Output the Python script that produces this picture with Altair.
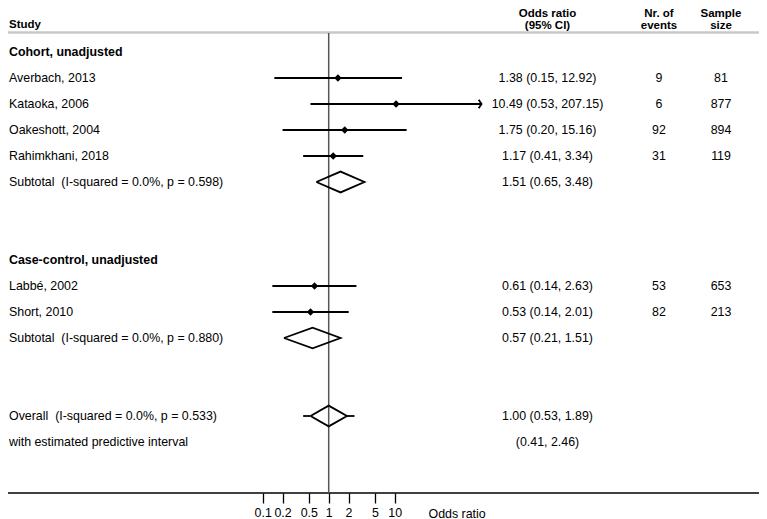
import altair as alt
import pandas as pd

# ---------------- data ----------------
study_labels = ["Averbach, 2013", "Kataoka, 2006", "Oakeshott, 2004",
                "Rahimkhani, 2018", "Labbé, 2002", "Short, 2010"]
study_rows = [2, 3, 4, 5, 10, 11]
study_or = [1.38, 10.49, 1.75, 1.17, 0.61, 0.53]
study_lo = [0.15, 0.53, 0.20, 0.41, 0.14, 0.14]
study_hi = [12.92, 207.15, 15.16, 3.34, 2.63, 2.01]
study_events = [9, 6, 92, 31, 53, 82]
study_size = [81, 877, 894, 119, 653, 213]

group_labels = ["Cohort, unadjusted", "Case-control, unadjusted"]
group_rows = [1, 9]

pooled_labels = ["Subtotal \u00a0(I-squared = 0.0%, p = 0.598)",
                 "Subtotal \u00a0(I-squared = 0.0%, p = 0.880)",
                 "Overall \u00a0(I-squared = 0.0%, p = 0.533)"]
pooled_rows = [6, 12, 15]
pooled_or = [1.51, 0.57, 1.00]
pooled_lo = [0.65, 0.21, 0.53]
pooled_hi = [3.48, 1.51, 1.89]

pred_label = "with estimated predictive interval"
pred_row = 16
pred_lo = 0.41
pred_hi = 2.46

tick_values = [0.1, 0.2, 0.5, 1, 2, 5, 10]
axis_max = 100  # CIs above this get an arrow

# ---------------- tables ----------------
FONT = "Liberation Sans"
FS = 12.4
HALF = 0.4  # diamond half-height in rows
W = 751

studies = pd.DataFrame({
    "label": study_labels, "row": study_rows, "est": study_or,
    "lo": study_lo, "hi": study_hi,
    "events": [str(v) for v in study_events],
    "size": [str(v) for v in study_size],
})
studies["ci"] = [f"{e:.2f} ({l:.2f}, {h:.2f})" for e, l, h in zip(study_or, study_lo, study_hi)]
arrows = studies[studies["hi"] > axis_max]

groups = pd.DataFrame({"label": group_labels, "row": group_rows})

pooled = pd.DataFrame({"label": pooled_labels, "row": pooled_rows,
                       "est": pooled_or, "lo": pooled_lo, "hi": pooled_hi})
pooled["ci"] = [f"{e:.2f} ({l:.2f}, {h:.2f})" for e, l, h in zip(pooled_or, pooled_lo, pooled_hi)]

diamond_rows = []
for i, (r, e, l, h) in enumerate(zip(pooled_rows, pooled_or, pooled_lo, pooled_hi)):
    pts = [(l, r), (e, r - HALF), (h, r), (e, r + HALF), (l, r)]
    for k, (xv, yv) in enumerate(pts):
        diamond_rows.append({"g": i, "o": k, "x": xv, "y": yv})
diamonds = pd.DataFrame(diamond_rows)

overall_row = pooled_rows[-1]
whiskers = pd.DataFrame({"a": [pred_lo, pooled_hi[-1]], "b": [pooled_lo[-1], pred_hi],
                         "row": [overall_row, overall_row]})
pred = pd.DataFrame({"label": [pred_label], "row": [pred_row],
                     "ci": [f"({pred_lo:.2f}, {pred_hi:.2f})"]})

plain_labels = pd.concat([studies[["label", "row"]], pooled[["label", "row"]],
                          pred[["label", "row"]]], ignore_index=True)
ci_texts = pd.concat([studies[["ci", "row"]], pooled[["ci", "row"]], pred[["ci", "row"]]],
                     ignore_index=True)

# ---------------- scales / axis ----------------
xs = alt.Scale(type="log", domain=[0.1, 10], range=[254.7, 386.7], nice=False)
ys = alt.Scale(domain=[0, 18], range=[18, 486])

xaxis = alt.Axis(
    values=tick_values, format="~g", tickSize=10, tickColor="black", tickWidth=1.3,
    domain=False, grid=False, labelFont=FONT, labelFontSize=FS, labelColor="black",
    labelPadding=3, labelOverlap=False, labelFlush=False, labelBound=False,
    title="Odds ratio", titleFont=FONT, titleFontSize=FS, titleFontWeight="normal",
    titleColor="black", titleX=420, titleY=20, titleAlign="left", titleBaseline="middle")

def X(field):
    return alt.X(f"{field}:Q", scale=xs, axis=xaxis, title="Odds ratio")

def Y(field="row"):
    return alt.Y(f"{field}:Q", scale=ys, axis=None)

# ---------------- layers ----------------
sep = alt.Chart(pd.DataFrame({"k": [0]})).mark_rule(color="#c8c8c8", strokeWidth=2.5).encode(
    x=alt.value(0), x2=alt.value(W), y=alt.value(24.5))

baseline = alt.Chart(pd.DataFrame({"k": [0]})).mark_rule(color="black", strokeWidth=1.3).encode(
    x=alt.value(0), x2=alt.value(W), y=alt.value(485))

refline = alt.Chart(pd.DataFrame({"v": [1.0]})).mark_rule(color="#555555", strokeWidth=1.5).encode(
    x=X("v"), y=alt.value(25), y2=alt.value(485))

ci = alt.Chart(studies).mark_rule(color="black", strokeWidth=1.8).encode(
    x=X("lo"), x2="hi:Q", y=Y())

pts = alt.Chart(studies).mark_point(shape="diamond", filled=True, size=55, color="black", opacity=1).encode(
    x=X("est"), y=Y())

arr = alt.Chart(arrows).mark_point(shape="M -0.7 -1 L 0 0 L -0.7 1", filled=False, size=70,
                                   color="black", strokeWidth=1.8, opacity=1).encode(
    x=X("hi"), y=Y())

dia = alt.Chart(diamonds).mark_line(color="black", strokeWidth=1.8).encode(
    x=X("x"), y=Y("y"), detail="g:N", order="o:Q")

whisk = alt.Chart(whiskers).mark_rule(color="black", strokeWidth=1.8).encode(
    x=X("a"), x2="b:Q", y=Y())

txt = dict(font=FONT, fontSize=FS, color="black", baseline="middle")

lab_plain = alt.Chart(plain_labels).mark_text(align="left", **txt).encode(
    x=alt.value(1), y=Y(), text="label:N")
lab_bold = alt.Chart(groups).mark_text(align="left", fontWeight="bold", **txt).encode(
    x=alt.value(1), y=Y(), text="label:N")
or_col = alt.Chart(ci_texts).mark_text(align="center", **txt).encode(
    x=alt.value(539.5), y=Y(), text="ci:N")
ev_col = alt.Chart(studies).mark_text(align="center", **txt).encode(
    x=alt.value(651), y=Y(), text="events:N")
ss_col = alt.Chart(studies).mark_text(align="center", **txt).encode(
    x=alt.value(713), y=Y(), text="size:N")

hdr = dict(font=FONT, fontSize=11.5, color="black", baseline="middle", fontWeight="bold",
           lineBreak="\n", lineHeight=12)
h_study = alt.Chart(pd.DataFrame({"t": ["Study"]})).mark_text(align="left", **hdr).encode(
    x=alt.value(1), y=alt.value(17), text="t:N")
h_or = alt.Chart(pd.DataFrame({"t": ["Odds ratio\n(95% CI)"]})).mark_text(align="center", **hdr).encode(
    x=alt.value(539.5), y=alt.value(6), text="t:N")
h_ev = alt.Chart(pd.DataFrame({"t": ["Nr. of\nevents"]})).mark_text(align="center", **hdr).encode(
    x=alt.value(651), y=alt.value(6), text="t:N")
h_ss = alt.Chart(pd.DataFrame({"t": ["Sample\nsize"]})).mark_text(align="center", **hdr).encode(
    x=alt.value(713), y=alt.value(6), text="t:N")

chart = alt.layer(
    sep, baseline, refline, ci, whisk, dia, pts, arr,
    lab_plain, lab_bold, or_col, ev_col, ss_col,
    h_study, h_or, h_ev, h_ss,
).properties(
    width=W, height=485,
    padding={"left": 0, "top": 0, "right": 0, "bottom": 26},
    autosize=alt.AutoSizeParams(type="none"),
    background="white",
).configure_view(stroke=None)

chart.save("out.html", embed_options={"renderer": "svg", "actions": False})
